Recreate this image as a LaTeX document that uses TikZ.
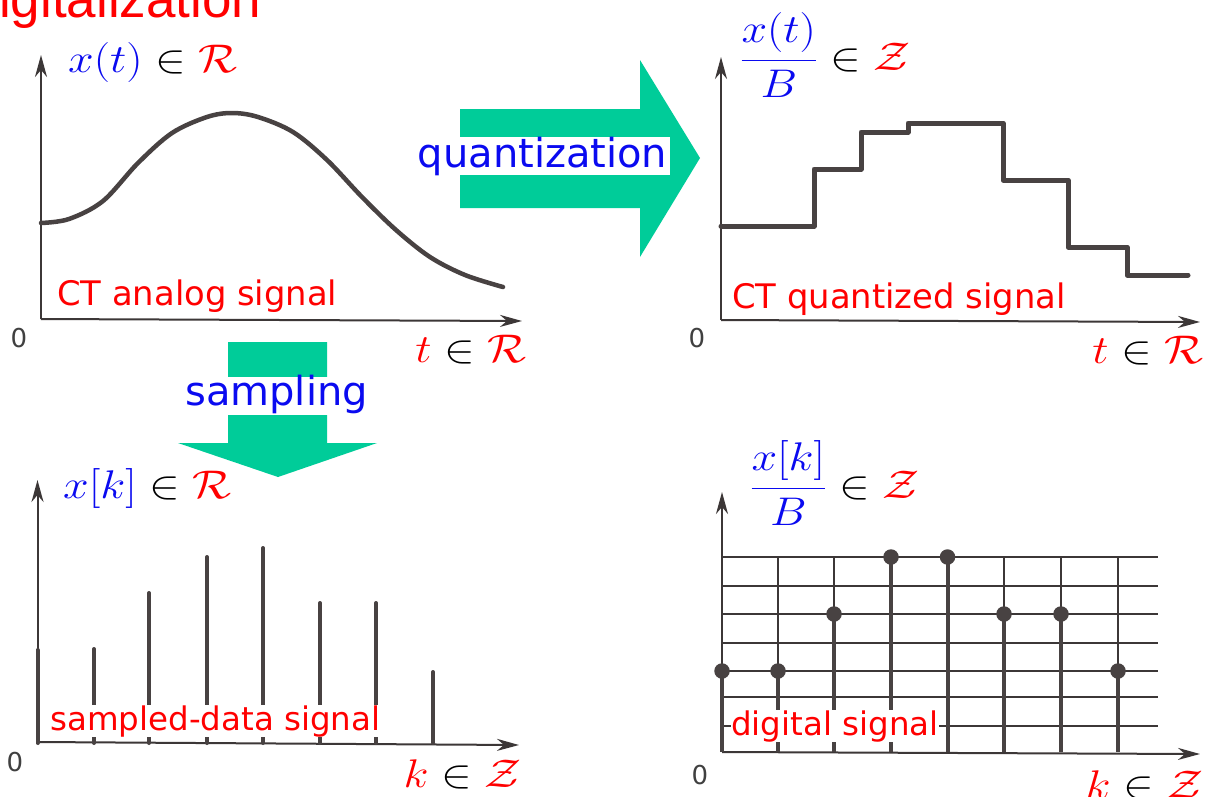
\RequirePackage{fix-cm}
\documentclass[tikz,border=0pt]{standalone}
\usepackage{fontspec}
\setsansfont{DejaVu Sans}
\newfontfamily\titlefont{Liberation Sans}
\usetikzlibrary{arrows.meta}
\definecolor{arrgreen}{RGB}{0,204,153}
\definecolor{axisgray}{RGB}{60,55,55}
\definecolor{sigray}{RGB}{72,66,66}
\definecolor{sigblue}{RGB}{10,10,240}
\definecolor{sigred}{RGB}{255,0,0}
\newcommand{\mwide}[1]{\scalebox{1.15}[1]{#1}}
\tikzset{
  axisline/.style={draw=axisgray, line width=2pt, -{Stealth[length=22pt,width=12pt,inset=7pt]}},
  sig/.style={draw=sigray, line width=4.5pt, line cap=round, line join=round},
  stemline/.style={draw=sigray, line width=4pt, line cap=round},
  gridline/.style={draw=axisgray, line width=1.6pt},
  dotmark/.style={circle, fill=sigray, inner sep=0pt, minimum size=15.5pt},
  mlbl/.style={inner sep=0pt, font=\fontsize{40}{48}\selectfont},
  slbl/.style={inner sep=0pt, text=sigred, font=\sffamily\fontsize{32.5}{38}\selectfont},
  ctlbl/.style={inner sep=0pt, text=sigred, font=\sffamily\fontsize{33.8}{38}\selectfont},
  zerolbl/.style={inner sep=0pt, text=black!75, font=\sffamily\fontsize{26}{30}\selectfont},
  bigarrow/.style={fill=arrgreen, draw=none},
  arrlbl/.style={fill=white, text=sigblue, inner sep=0pt, font=\sffamily\fontsize{40}{48}\selectfont},
  titlelbl/.style={inner sep=0pt, text=sigred, font=\titlefont\fontsize{53}{60}\selectfont},
}
\begin{document}
\begin{tikzpicture}[x=1pt,y=-1pt]
\useasboundingbox (0,0) rectangle (1215,796);
\clip (0,0) rectangle (1215,796);
\fill[white] (0,0) rectangle (1215,796);

% title
\node[titlelbl, anchor=base east] (title) at (261.5,17) {Digitalization};

% ---------- panel 1: CT analog ----------
\coordinate (o1) at (41,319);
\coordinate (y1) at (41,55);
\coordinate (x1) at (522,321);
\draw[axisline] (o1) -- (y1);
\draw[axisline] (o1) -- (x1);
\draw[sig] plot[smooth, tension=0.55] coordinates {(41,223) (69,219) (103,201) (138,163) (172,133) (207,117) (232,113) (258,117) (293,132) (327,160) (362,197) (396,230) (430,257) (465,275) (503,287)};
\node[mlbl, anchor=base west] (l1) at (68,72) {\mwide{$\textcolor{sigblue}{x(t)}\in\textcolor{sigred}{\mathcal{R}}$}};
\node[ctlbl, anchor=base west] (c1) at (57,305) {CT analog signal};
\node[zerolbl] (z1) at (19,338) {0};
\node[mlbl, anchor=base east] (t1) at (527,362) {\mwide{$\textcolor{sigred}{t}\in\textcolor{sigred}{\mathcal{R}}$}};

% ---------- panel 2: CT quantized ----------
\coordinate (o2) at (721,320);
\coordinate (y2) at (721,57);
\coordinate (x2) at (1200,322);
\draw[axisline] (o2) -- (y2);
\draw[axisline] (o2) -- (x2);
\draw[sig, line width=5pt] (721,226) -- (814,226) -- (814,169) -- (861,169) -- (861,132) -- (908,132) -- (908,123) -- (1003,123) -- (1003,180) -- (1068,180) -- (1068,247) -- (1127,247) -- (1127,275) -- (1188,275);
\node[mlbl, anchor=base west] (l2) at (740,70) {\mwide{$\textcolor{sigblue}{\displaystyle\frac{x(t)}{B}}\in\textcolor{sigred}{\mathcal{Z}}$}};
\node[ctlbl, anchor=base west] (c2) at (732,308) {CT quantized signal};
\node[zerolbl] (z2) at (697,338) {0};
\node[mlbl, anchor=base east] (t2) at (1204,363) {\mwide{$\textcolor{sigred}{t}\in\textcolor{sigred}{\mathcal{R}}$}};

% ---------- panel 3: sampled-data ----------
\coordinate (o3) at (37.5,742);
\coordinate (y3) at (37.5,480);
\coordinate (x3) at (519,745);
\draw[axisline] (o3) -- (y3);
\draw[axisline] (o3) -- (x3);
\foreach \xx/\tt [count=\i] in {37.5/650, 94/649, 149/593, 207/557, 263/548, 320/603, 376/603, 433/672}{
  \coordinate (sb\i) at (\xx,743);
  \coordinate (st\i) at (\xx,\tt);
  \draw[stemline] (sb\i) -- (st\i);
}
\node[mlbl, anchor=base west] (l3) at (63,498) {\mwide{$\textcolor{sigblue}{x[k]}\in\textcolor{sigred}{\mathcal{R}}$}};
\node[slbl, fill=white, anchor=base west] (c3) at (50,730) {sampled-data signal};
\node[zerolbl] (z3) at (15,762) {0};
\node[mlbl, anchor=base east] (t3) at (522,787) {\mwide{$\textcolor{sigred}{k}\in\textcolor{sigred}{\mathcal{Z}}$}};

% ---------- panel 4: digital ----------
\coordinate (o4) at (722,752);
\coordinate (y4) at (722,492);
\coordinate (x4) at (1200,754);
\foreach \yy [count=\j] in {557,586,614,643,671,697,726}{
  \coordinate (ha\j) at (722,\yy);
  \coordinate (hb\j) at (1158,\yy);
  \draw[gridline] (ha\j) -- (hb\j);
}
\foreach \xx [count=\j] in {778,834,891,947.5,1004,1061,1118}{
  \coordinate (va\j) at (\xx,557);
  \coordinate (vb\j) at (\xx,752);
  \draw[gridline] (va\j) -- (vb\j);
}
\draw[axisline] (o4) -- (y4);
\draw[axisline] (o4) -- (x4);
\foreach \xx/\tt [count=\i] in {722/671, 778/671, 834/614, 891/557, 947.5/557, 1004/614, 1061/614, 1118/671}{
  \coordinate (db\i) at (\xx,752);
  \node[dotmark] (dt\i) at (\xx,\tt) {};
  \draw[stemline, line cap=butt] (db\i) -- (dt\i.center);
}
\node[mlbl, anchor=base west] (l4) at (750,498) {\mwide{$\textcolor{sigblue}{\displaystyle\frac{x[k]}{B}}\in\textcolor{sigred}{\mathcal{Z}}$}};
\node[slbl, fill=white, anchor=base west] (c4) at (731,735) {digital signal};
\node[zerolbl] (z4) at (700,775) {0};
\node[mlbl, anchor=base east] (t4) at (1204,798) {\mwide{$\textcolor{sigred}{k}\in\textcolor{sigred}{\mathcal{Z}}$}};

% ---------- green arrows ----------
\fill[bigarrow] (460,109) -- (640,109) -- (640,60) -- (700,158) -- (640,257) -- (640,208) -- (460,208) -- cycle;
\node[arrlbl, minimum width=255pt, text height=30pt, text depth=8pt, anchor=north] (qlbl) at (542.5,137) {quantization};
\fill[bigarrow] (228,342) -- (327,342) -- (327,443) -- (377,443) -- (278,477) -- (178,443) -- (228,443) -- cycle;
\node[arrlbl, minimum width=187pt, text height=28pt, text depth=10pt, anchor=north] (slbl) at (276.5,377) {sampling};
\end{tikzpicture}
\end{document}
